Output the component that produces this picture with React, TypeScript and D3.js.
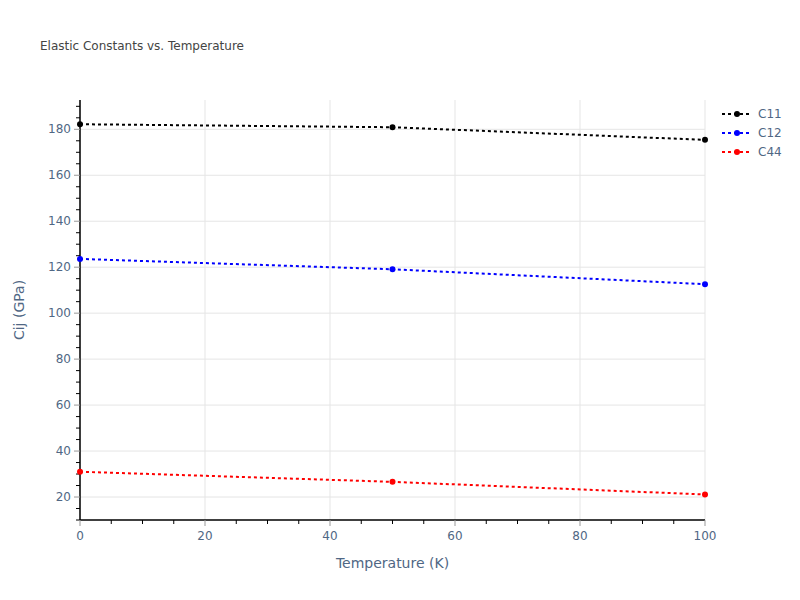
import React from "react";
import * as d3 from "d3";

const temperatures = [0, 50, 100];
const c11 = [182.2, 180.9, 175.4];
const c12 = [123.6, 119.1, 112.6];
const c44 = [31.0, 26.6, 21.1];
const seriesNames = ["C11", "C12", "C44"];
const seriesColors = ["#000000", "#0000ff", "#ff0000"];
const xTicks = [0, 20, 40, 60, 80, 100];
const yTicks = [20, 40, 60, 80, 100, 120, 140, 160, 180];

const W = 800;
const H = 600;
const L = 80, R = 705, T = 100, B = 520;

export default function App() {
  const x = d3.scaleLinear().domain([0, 100]).range([L, R]);
  const y = d3.scaleLinear().domain([10, 180]).range([B, 129.3]);
  const yTop = y.invert(T);
  const xMinor = d3.range(0, 100.01, 5);
  const yMinor = d3.range(10, yTop, 5);
  const line = d3.line<[number, number]>().x(d => x(d[0])).y(d => y(d[1]));
  const series = [c11, c12, c44];
  const font = "'DejaVu Sans', Verdana, sans-serif";
  const txt = "#506784";
  return (
    <svg width={W} height={H} style={{ position: "absolute", left: 0, top: 0, background: "#fff" }} fontFamily={font}>
      <rect x={0} y={0} width={W} height={H} fill="#fff" />
      {xTicks.map(t => (
        <line key={"gx" + t} x1={x(t)} x2={x(t)} y1={T} y2={B} stroke="#e5e5e5" strokeWidth={1} />
      ))}
      {yTicks.map(t => (
        <line key={"gy" + t} x1={L} x2={R} y1={y(t)} y2={y(t)} stroke="#e5e5e5" strokeWidth={1} />
      ))}
      <line x1={L} x2={R} y1={B} y2={B} stroke="#000" strokeWidth={1.5} />
      <line x1={L} x2={L} y1={T} y2={B} stroke="#000" strokeWidth={1.5} />
      {xMinor.filter(t => !xTicks.includes(t)).map(t => (
        <line key={"mx" + t} x1={x(t)} x2={x(t)} y1={B} y2={B + 4} stroke="#000" strokeWidth={1} />
      ))}
      {yMinor.filter(t => !yTicks.includes(t)).map(t => (
        <line key={"my" + t} x1={L - 4} x2={L} y1={y(t)} y2={y(t)} stroke="#000" strokeWidth={1} />
      ))}
      {xTicks.map(t => (
        <g key={"tx" + t}>
          <line x1={x(t)} x2={x(t)} y1={B} y2={B + 6} stroke="#999" strokeWidth={1} />
          <text x={x(t)} y={B + 20} textAnchor="middle" fontSize={12} fill={txt}>{t}</text>
        </g>
      ))}
      {yTicks.map(t => (
        <g key={"ty" + t}>
          <line x1={L - 6} x2={L} y1={y(t)} y2={y(t)} stroke="#999" strokeWidth={1} />
          <text x={L - 9} y={y(t) + 4} textAnchor="end" fontSize={12} fill={txt}>{t}</text>
        </g>
      ))}
      {series.map((s, i) => {
        const pts = temperatures.map((t, j) => [t, s[j]] as [number, number]);
        return (
          <g key={"s" + i}>
            <path d={line(pts) || ""} fill="none" stroke={seriesColors[i]} strokeWidth={2} strokeDasharray="3,3" />
            {pts.map((p, j) => (
              <circle key={j} cx={x(p[0])} cy={y(p[1])} r={3} fill={seriesColors[i]} />
            ))}
          </g>
        );
      })}
      <text x={40} y={50} fontSize={12} fill="#444">Elastic Constants vs. Temperature</text>
      <text x={(L + R) / 2} y={568} textAnchor="middle" fontSize={14} fill={txt}>Temperature (K)</text>
      <text transform={`translate(24, ${(T + B) / 2}) rotate(-90)`} textAnchor="middle" fontSize={14} fill={txt}>Cij (GPa)</text>
      {seriesNames.map((n, i) => (
        <g key={"lg" + i} transform={`translate(0, ${114 + i * 19})`}>
          <line x1={722} x2={752} y1={0} y2={0} stroke={seriesColors[i]} strokeWidth={2} strokeDasharray="3,3" />
          <circle cx={737} cy={0} r={3} fill={seriesColors[i]} />
          <text x={758} y={4} fontSize={12} fill={txt}>{n}</text>
        </g>
      ))}
    </svg>
  );
}
